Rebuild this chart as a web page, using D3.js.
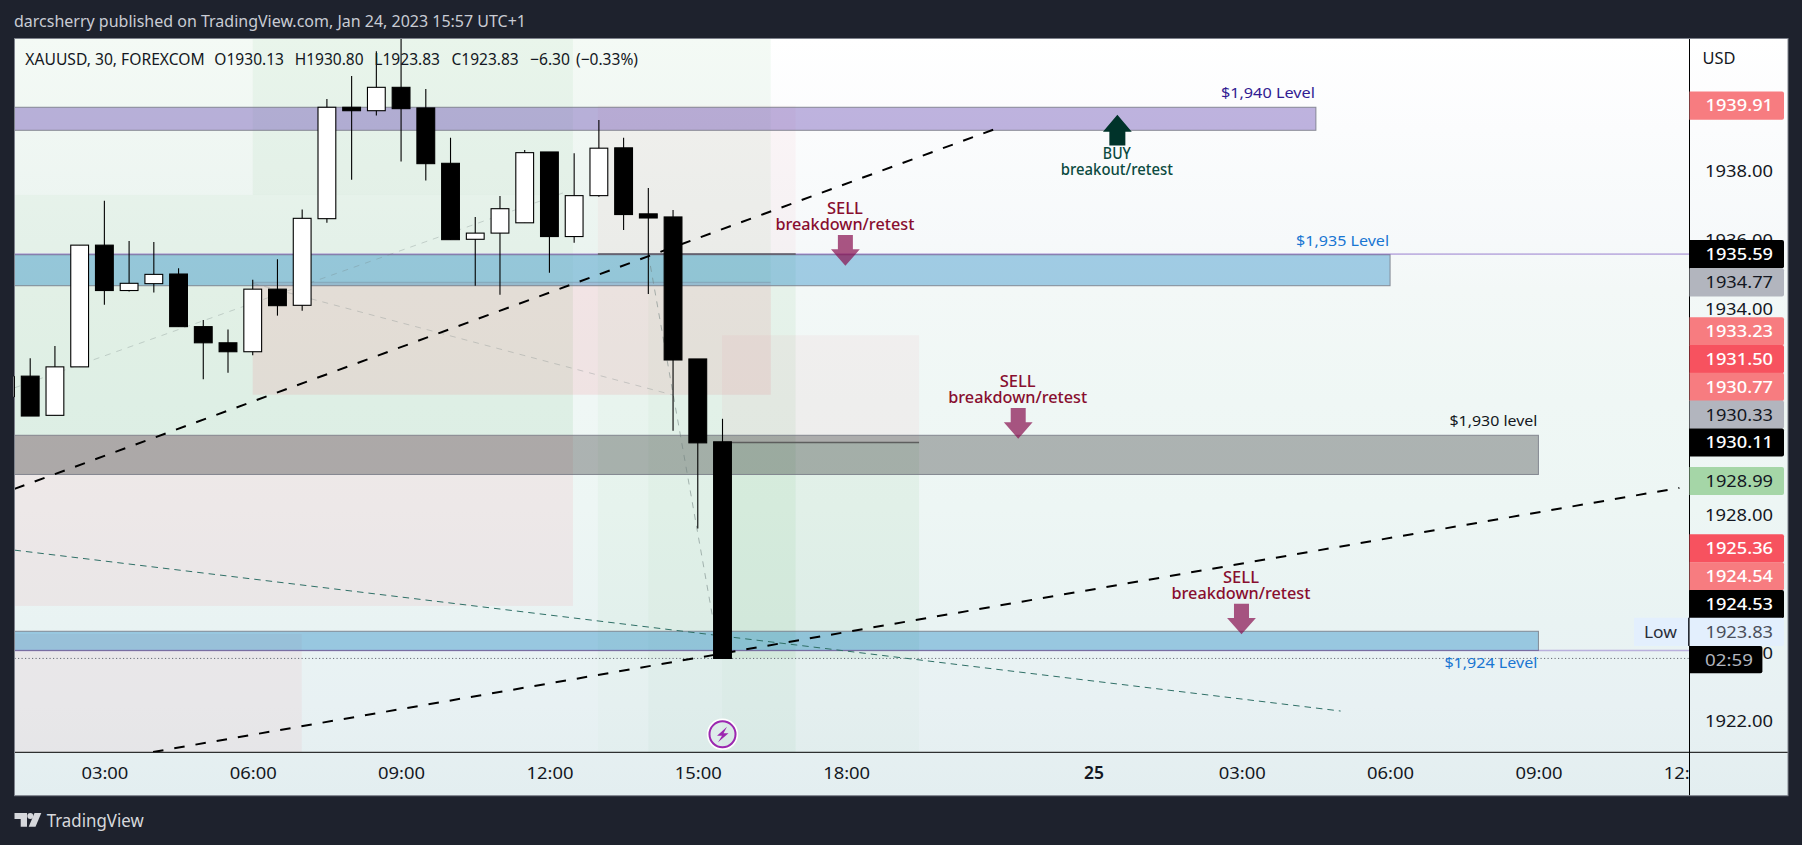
<!DOCTYPE html>
<html><head><meta charset="utf-8">
<style>html,body{margin:0;padding:0;background:#1e222d;overflow:hidden}svg{display:block}text{font-family:"Noto Sans",sans-serif}</style>
<script src="https://cdnjs.cloudflare.com/ajax/libs/d3/7.8.5/d3.min.js"></script>
</head><body><svg id="c" width="1802" height="845"></svg>
<script>
// ---- candles (bar index = array position - 1)
const opens =[1931.43,1932.04,1930.90,1932.31,1935.85,1934.53,1934.73,1935.01,1933.48,1933.01,1932.75,1934.57,1934.10,1936.62,1939.86,1939.76,1940.44,1939.84,1938.23,1936.02,1936.20,1936.50,1938.56,1936.10,1937.29,1938.68,1936.76,1936.67,1932.54,1930.13];
const closes=[1932.04,1930.88,1932.31,1935.85,1934.53,1934.74,1935.00,1933.48,1933.01,1932.75,1934.57,1934.09,1936.63,1939.86,1939.76,1940.44,1939.82,1938.22,1936.01,1936.20,1936.91,1938.54,1936.10,1937.29,1938.67,1936.74,1936.64,1932.51,1930.10,1923.83];
const highs =[1932.04,1932.56,1932.92,1935.85,1937.14,1935.97,1935.94,1935.18,1933.67,1933.40,1934.84,1935.44,1936.89,1940.10,1940.77,1941.49,1942.20,1940.39,1938.97,1936.67,1937.28,1938.62,1938.56,1938.52,1939.49,1938.97,1937.51,1936.87,1932.54,1930.80];
const lows  =[1931.43,1930.88,1930.90,1932.31,1934.12,1934.50,1934.47,1933.48,1931.95,1932.14,1932.65,1933.80,1933.94,1936.50,1937.75,1939.62,1938.28,1937.73,1936.01,1934.67,1934.41,1936.50,1935.05,1935.92,1937.26,1936.29,1934.43,1930.45,1927.61,1923.83];
const firstBar=-1;

// ---- axes
const timeTickBars=[3,9,15,21,27,33,43,49,55,61,67];
const timeTickLabels=["03:00","06:00","09:00","12:00","15:00","18:00","25","03:00","06:00","09:00","12:00"];
const priceTicks=[1938,1936,1934,1928,1924,1922];

// ---- horizontal level bands
const bandNames=["purple","blue1935","grey1930","blue1924"];
const bandTop=[1939.86,1935.57,1930.32,1924.62];
const bandBottom=[1939.19,1934.67,1929.18,1924.06];
const bandEnd=[52,55,61,61];
const bandFill=["#6243ae","#0277bd","#000000","#0277bd"];
const bandAlpha=[0.40,0.35,0.275,0.35];
const levelLabels=["$1,940 Level","$1,935 Level","$1,930 level","$1,924 Level"];
const levelColor=["#311b92","#1976d2","#131722","#1976d2"];
const levelWidth=[94,93,88,93];
const levelOffset=[-14.6,-14,-14.8,0];

// ---- position-tool shading
const G="#4caf50",R="rgb(240,100,115)";
const shadeStart=[null,9,null,21.95,9,22.96,22.96,22.96,25,25,27.98,27.98,27.98,null,null];
const shadeEnd=[21.95,29.95,21.95,29.95,29.95,30.96,30.96,30.96,30.96,30.96,35.95,35.95,35.95,21.95,10.98];
const shadeTop=[null,null,1937.31,1937.31,1934.77,1939.91,1935.59,1923.83,1935.59,1923.83,1933.23,1930.11,1923.83,1930.33,1924.54];
const shadeBottom=[1937.31,1937.31,1930.33,1934.77,1931.50,1935.59,1923.83,null,1923.83,null,1930.11,1923.83,null,1925.36,null];
const shadeFill=[G,G,G,G,R,R,G,G,G,G,R,G,G,R,R];
const shadeAlpha=[.06,.06,.098,.06,.135,.05,.04,.015,.035,.03,.06,.07,.025,.09,.07];

// ---- entry lines of position tools
const entryStart=[22.96,27.98,9];
const entryEnd=[30.96,35.95,29.95];
const entryPrice=[1935.59,1930.11,1934.77];

// ---- trend lines [bar0, price0, bar1, price1]
const heavyLines=[[-0.635,1928.76,39,1939.22],[4.97,1921.11,66.7,1928.79]];
const thinLines=[[-0.635,1926.98,53,1922.30]];
const faintLines=[[-0.635,1931.70,21.67,1937.40],[9,1934.74,26,1931.49],[25,1935.59,27.62,1924.95]];
const faintAlpha=[.3,.3,.55];

// ---- arrows with captions
const arrowBars=[32.97,39.96,48.99,43.97];
const arrowTips=[1935.25,1930.22,1924.53,1939.64];
const arrowKind=["SELL","SELL","SELL","BUY"];
const arrowCaption=["breakdown/retest","breakdown/retest","breakdown/retest","breakout/retest"];

// ---- right-axis tags
const tagValues=[1939.91,1935.59,1934.77,1933.23,1931.50,1930.77,1930.33,1930.11,1928.99,1925.36,1924.54,1924.53,1923.83];
const tagFill=["#f77c80","#000000","#b2b5be","#f77c80","#f7525f","#f77c80","#b2b5be","#000000","#a5d6a7","#f7525f","#f77c80","#000000","#e3effd"];
const tagInk=["#ffffff","#ffffff","#131722","#ffffff","#ffffff","#ffffff","#131722","#ffffff","#131722","#ffffff","#ffffff","#ffffff","#4a4e5a"];
const lastPrice=1923.83, countdown="02:59";

// ---- header texts
const headline="darcsherry published on TradingView.com, Jan 24, 2023 15:57 UTC+1";
const legendText=["XAUUSD, 30, FOREXCOM","O1930.13","H1930.80","L1923.83","C1923.83","\u22126.30","(\u22120.33%)"];
const legendStart=[25.3,214.3,294.7,374.3,451.6,530,576];
const legendWidth=[179.4,69.7,68.9,65.7,67,40,62];
const purpleLines=[1935.59,1924.06];

// ---- frame
const L=14.5,P=1689.5,Rr=1788,T=38.5,A=752.3,B=795.7;
const x=d3.scaleLinear().domain([-0.635,67.11]).range([L,P]);
const y=d3.scaleLinear().domain([1941.86,1921.10]).range([T,A]);
const svg=d3.select("#c");
const defs=svg.append("defs");
const grad=defs.append("linearGradient").attr("id","bg").attr("x1",0).attr("x2",0).attr("y1",0).attr("y2",1);
[[0,"#ffffff"],[.12,"#fbfcfd"],[.27,"#f6f9fa"],[.33,"#f3f8f7"],[.48,"#eff7f5"],[.62,"#edf6f4"],[.77,"#e9f3f3"],[.88,"#e8f1f3"],[1,"#e3eef0"]]
 .forEach(s=>grad.append("stop").attr("offset",s[0]).attr("stop-color",s[1]));
defs.append("clipPath").attr("id","pane").append("rect").attr("x",L).attr("y",T).attr("width",P-L).attr("height",A-T);
defs.append("clipPath").attr("id","candles").append("rect").attr("x",L-1).attr("y",T).attr("width",P-L+1).attr("height",A-T);
defs.append("clipPath").attr("id","timeclip").append("rect").attr("x",L).attr("y",A).attr("width",P-L).attr("height",B-A);

svg.append("rect").attr("x",L).attr("y",T).attr("width",Rr-L).attr("height",B-T).attr("fill","url(#bg)");

svg.append("text").attr("x",14).attr("y",21.7).attr("dy",".35em").attr("font-size",16.5).attr("fill","#c9ccd4")
  .attr("textLength",512).attr("lengthAdjust","spacingAndGlyphs").text(headline);

const pane=svg.append("g").attr("clip-path","url(#pane)");

// shading
const sx=v=>v==null?L:x(v), sy=(v,d)=>v==null?d:y(v);
pane.append("g").selectAll("rect").data(shadeFill.map((f,i)=>i)).join("rect")
 .attr("x",i=>sx(shadeStart[i])).attr("width",i=>x(shadeEnd[i])-sx(shadeStart[i]))
 .attr("y",i=>sy(shadeTop[i],T)).attr("height",i=>sy(shadeBottom[i],A)-sy(shadeTop[i],T))
 .attr("fill",i=>shadeFill[i]).attr("fill-opacity",i=>shadeAlpha[i]);

// level bands
pane.append("g").selectAll("rect").data(bandNames.map((n,i)=>i)).join("rect")
 .attr("x",L-2).attr("width",i=>x(bandEnd[i])-L+2)
 .attr("y",i=>y(bandTop[i])).attr("height",i=>y(bandBottom[i])-y(bandTop[i]))
 .attr("fill",i=>bandFill[i]).attr("fill-opacity",i=>bandAlpha[i])
 .attr("stroke","#787b86").attr("stroke-opacity",.85).attr("stroke-width",1);

// price lines
pane.append("g").selectAll("line").data(purpleLines).join("line")
 .attr("x1",L).attr("x2",P).attr("y1",d=>y(d)).attr("y2",d=>y(d))
 .attr("stroke","#673ab7").attr("stroke-opacity",.36).attr("stroke-width",1.6);
pane.append("line").attr("x1",L).attr("x2",P).attr("y1",y(lastPrice)).attr("y2",y(lastPrice))
 .attr("stroke","#666a75").attr("stroke-width",1).attr("stroke-dasharray","1.2 2.3");

// entries
pane.append("g").selectAll("line").data(entryPrice.map((p,i)=>i)).join("line")
 .attr("x1",i=>x(entryStart[i])).attr("x2",i=>x(entryEnd[i])).attr("y1",i=>y(entryPrice[i])).attr("y2",i=>y(entryPrice[i]))
 .attr("stroke",i=>i<2?"#555":"#6f8a9a").attr("stroke-opacity",i=>i<2?.9:.45).attr("stroke-width",i=>i<2?1.5:1);

// trend lines
const drawLines=(data,cfg)=>pane.append("g").selectAll("line").data(data).join("line")
 .attr("x1",d=>x(d[0])).attr("y1",d=>y(d[1])).attr("x2",d=>x(d[2])).attr("y2",d=>y(d[3]))
 .attr("stroke",cfg.c).attr("stroke-width",cfg.w).attr("stroke-dasharray",cfg.d).attr("stroke-opacity",cfg.a||1);
drawLines(faintLines,{c:"#6f7f7d",w:1,d:"6 6"}).attr("stroke-opacity",(d,i)=>faintAlpha[i]);
drawLines(thinLines,{c:"#2f6f66",w:1,d:"6.5 5"});
drawLines(heavyLines,{c:"#000",w:2,d:"10.5 11"});

// candles
const bars=opens.map((o,i)=>({i:i+firstBar,o,c:closes[i],h:highs[i],l:lows[i]}));
const cg=svg.append("g").attr("clip-path","url(#candles)").selectAll("g").data(bars).join("g");
cg.append("line").attr("x1",d=>x(d.i)).attr("x2",d=>x(d.i)).attr("y1",d=>y(d.h)).attr("y2",d=>y(d.l)).attr("stroke","#000").attr("stroke-width",1.1);
cg.append("rect").attr("x",d=>x(d.i)-8.9).attr("width",17.8)
 .attr("y",d=>y(Math.max(d.o,d.c))).attr("height",d=>Math.max(1,y(Math.min(d.o,d.c))-y(Math.max(d.o,d.c))))
 .attr("fill",d=>d.c>=d.o?"#fff":"#000").attr("stroke","#000").attr("stroke-width",1.1);

// legend
svg.append("g").selectAll("text").data(legendText).join("text")
 .attr("x",(d,i)=>legendStart[i]).attr("y",59.3).attr("dy",".35em").attr("font-size",16.5).attr("fill","#131722")
 .attr("textLength",(d,i)=>legendWidth[i]).attr("lengthAdjust","spacingAndGlyphs").text(d=>d);

// level labels
svg.append("g").selectAll("text").data(levelLabels).join("text")
 .attr("x",(d,i)=>x(bandEnd[i])-1).attr("text-anchor","end")
 .attr("y",(d,i)=>i==3?y(bandBottom[i])+12.4:y(bandTop[i])+levelOffset[i]).attr("dy",".35em")
 .attr("font-size",15).attr("fill",(d,i)=>levelColor[i])
 .attr("textLength",(d,i)=>levelWidth[i]).attr("lengthAdjust","spacingAndGlyphs").text(d=>d);

// arrows and captions
const arrowPath=(k)=>k=="SELL"
 ?"M0,0 L-14.4,-16.4 L-7.5,-16.4 L-7.5,-30.7 L7.5,-30.7 L7.5,-16.4 L14.4,-16.4 Z"
 :"M0,0 L14.4,17 L8,17 L8,30.7 L-8,30.7 L-8,17 L-14.4,17 Z";
const ag=svg.append("g").selectAll("g").data(arrowBars.map((b,i)=>i)).join("g")
 .attr("transform",i=>`translate(${x(arrowBars[i])},${y(arrowTips[i])})`);
ag.append("path").attr("d",i=>arrowPath(arrowKind[i])).attr("fill",i=>arrowKind[i]=="SELL"?"#880e4f":"#00332a").attr("fill-opacity",i=>arrowKind[i]=="SELL"?.7:1);
ag.append("text").attr("text-anchor","middle").attr("y",i=>arrowKind[i]=="SELL"?-57.4:39).attr("dy",".35em").attr("font-size",16).attr("font-weight",500)
 .attr("x",-0.5).attr("fill",i=>arrowKind[i]=="SELL"?"#880e2f":"#0b4a40").attr("textLength",i=>arrowKind[i]=="SELL"?36:28).attr("lengthAdjust","spacingAndGlyphs").text(i=>arrowKind[i]);
ag.append("text").attr("text-anchor","middle").attr("y",i=>arrowKind[i]=="SELL"?-41.4:55).attr("dy",".35em").attr("font-size",16).attr("font-weight",500)
 .attr("x",-0.5).attr("fill",i=>arrowKind[i]=="SELL"?"#880e2f":"#0b4a40").attr("textLength",i=>arrowKind[i]=="SELL"?139:112).attr("lengthAdjust","spacingAndGlyphs").text(i=>arrowCaption[i]);

// lightning mark
const bolt=svg.append("g").attr("transform",`translate(${x(28)},${A-18})`);
bolt.append("circle").attr("r",14.8).attr("fill","none").attr("stroke","#fff").attr("stroke-width",1.8);
bolt.append("circle").attr("r",13).attr("fill","none").attr("stroke","#9c27b0").attr("stroke-width",2);
bolt.append("path").attr("d","M4.5,-7.5 L-5.5,1.5 L-0.5,1.5 L-4.5,8 L6,-1 L1,-1 Z").attr("fill","#9c27b0");

// axis lines
svg.append("line").attr("x1",L).attr("x2",Rr).attr("y1",A).attr("y2",A).attr("stroke","#000").attr("stroke-width",1);
svg.append("line").attr("x1",P).attr("x2",P).attr("y1",T).attr("y2",B).attr("stroke","#000").attr("stroke-width",1);

// time axis
const tAxis=d3.axisBottom(x).tickValues(timeTickBars).tickSize(0).tickPadding(0).tickFormat((d,i)=>timeTickLabels[i]);
const tg=svg.append("g").attr("clip-path","url(#timeclip)").append("g").attr("transform",`translate(0,${A})`).call(tAxis);
tg.select(".domain").remove();
tg.selectAll("text").attr("y",21).attr("dy",".35em").attr("font-size",17).attr("fill","#131722").style("font-family",'"Noto Sans",sans-serif')
 .attr("font-weight",(d,i)=>timeTickLabels[i]=="25"?600:400)
 .attr("textLength",(d,i)=>timeTickLabels[i]=="25"?20:47).attr("lengthAdjust","spacingAndGlyphs");

// price axis
const pAxis=d3.axisRight(y).tickValues(priceTicks).tickSize(0).tickPadding(15.5).tickFormat(d3.format(".2f"));
const pg=svg.append("g").attr("transform",`translate(${P},0)`).call(pAxis);
pg.select(".domain").remove();
pg.selectAll("text").attr("font-size",17).attr("fill","#131722").style("font-family",'"Noto Sans",sans-serif')
 .attr("textLength",68).attr("lengthAdjust","spacingAndGlyphs");
svg.append("text").attr("x",1702.5).attr("y",57.7).attr("dy",".35em").attr("font-size",17).attr("fill","#131722").attr("textLength",33).attr("lengthAdjust","spacingAndGlyphs").text("USD");

// right-axis tags, pushed upward to avoid overlap
const step=27.8, rowH=28.2;
const bottomRow=y(lastPrice)+1.2;
const tagY=new Array(tagValues.length);
let nxt=bottomRow;
for(let i=tagValues.length-1;i>=0;i--){tagY[i]=Math.min(y(tagValues[i]),nxt-step);nxt=tagY[i];}
const boxPath=(x0,x1,cy,h)=>{const r=2,t=cy-h/2,b=cy+h/2;return `M${x0},${t}H${x1-r}Q${x1},${t} ${x1},${t+r}V${b-r}Q${x1},${b} ${x1-r},${b}H${x0}Z`;};
const tags=svg.append("g").selectAll("g").data(tagValues.map((v,i)=>i)).join("g");
tags.append("path").attr("d",i=>boxPath(P,1784,tagY[i],rowH)).attr("fill",i=>tagFill[i]);
tags.append("text").attr("x",1705.5).attr("y",i=>tagY[i]).attr("dy",".35em").attr("font-size",17).attr("fill",i=>tagInk[i])
 .attr("font-weight",i=>tagInk[i]=="#ffffff"?500:400).attr("textLength",67.5).attr("lengthAdjust","spacingAndGlyphs").text(i=>tagValues[i].toFixed(2));
// countdown
svg.append("path").attr("d",boxPath(P,1762.4,bottomRow,27.4)).attr("fill","#000");
svg.append("text").attr("x",1729).attr("y",bottomRow).attr("dy",".35em").attr("text-anchor","middle").attr("font-size",17).attr("fill","#b2b5be").attr("textLength",48).attr("lengthAdjust","spacingAndGlyphs").text(countdown);
// Low tag
const lowY=tagY[tagY.length-1];
svg.append("rect").attr("x",1634).attr("y",lowY-14.1).attr("width",55).attr("height",28.2).attr("fill","#e3effd");
svg.append("line").attr("x1",1688.6).attr("x2",1688.6).attr("y1",lowY-14.1).attr("y2",lowY+14.1).attr("stroke","#131722").attr("stroke-width",1);
svg.append("text").attr("x",1660.5).attr("y",lowY).attr("dy",".35em").attr("text-anchor","middle").attr("font-size",17).attr("fill","#2a2e39").attr("textLength",33).attr("lengthAdjust","spacingAndGlyphs").text("Low");

// frame edge above tags
svg.append("rect").attr("x",L).attr("y",T).attr("width",Rr-L).attr("height",B-T).attr("fill","none").attr("stroke","#7e828c").attr("stroke-width",1);
// left candle sliver sits on the frame edge
svg.append("g").attr("clip-path","url(#candles)").append("rect").attr("x",x(firstBar)+8.9-0.55).attr("width",1.1)
 .attr("y",y(closes[0])).attr("height",y(opens[0])-y(closes[0])).attr("fill","#000");

// brand
const brand=svg.append("g").attr("fill","#d6d8dc");
brand.append("path").attr("d","M14.5,813H27V826.7H20.7V819H14.5Z");
brand.append("circle").attr("cx",30.3).attr("cy",816).attr("r",3);
brand.append("path").attr("d","M34.5,813H41.3L35.5,826.7H28.7Z");
brand.append("text").attr("x",46.7).attr("y",820.5).attr("dy",".35em").attr("font-size",18).attr("textLength",97).attr("lengthAdjust","spacingAndGlyphs").text("TradingView");
</script></body></html>
